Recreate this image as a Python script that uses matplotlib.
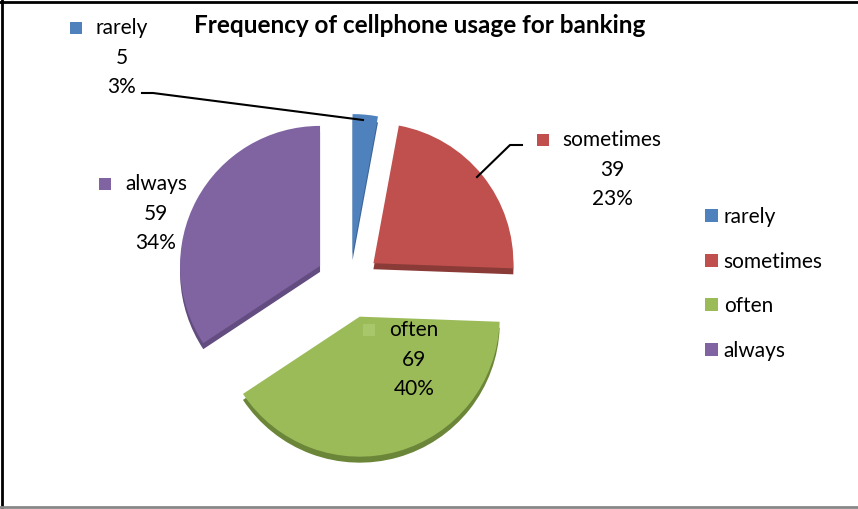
import matplotlib
matplotlib.use('Agg')
import matplotlib.pyplot as plt
from matplotlib.patches import Rectangle
from matplotlib.lines import Line2D

categories = ['rarely', 'sometimes', 'often', 'always']
counts = [5, 39, 69, 59]
percents = ['3%', '23%', '40%', '34%']
title = 'Frequency of cellphone usage for banking'

colors = ['#4F81BD', '#C0504D', '#9BBB59', '#8064A2']
side_colors = ['#3B6596', '#8A3A37', '#6B8638', '#624C80']

plt.rcParams['font.family'] = ['Lato', 'DejaVu Sans']

W, H = 858, 509
fig = plt.figure(figsize=(W / 100, H / 100), dpi=100)
ax = fig.add_axes([0, 0, 1, 1])


def Y(v):
    return H - v


cx, cy = 350, Y(282)
R = 140
explode = [28, 30, 36, 34]
depth = 6

# side (thickness) of the 3D pie
ax.pie(counts, explode=explode, colors=side_colors, startangle=90,
       counterclock=False, radius=R, center=(cx, cy - depth),
       wedgeprops=dict(linewidth=0))
wedges, _ = ax.pie(counts, explode=explode, colors=colors, startangle=90,
                   counterclock=False, radius=R, center=(cx, cy),
                   wedgeprops=dict(linewidth=0))

ax.set_xlim(0, W)
ax.set_ylim(0, H)
ax.set_aspect('equal')
ax.axis('off')

# title
ax.text(420, Y(25), title, ha='center', va='center', fontsize=17.5,
        fontweight='bold', color='black')

# data labels: (name centre x, name y) in image pixels
label_pos = [(122, 28), (612, 140), (414, 330), (156, 184)]
line_gap = 29.5
fs = 15
name_texts = []
for i, (lx, ly) in enumerate(label_pos):
    t = ax.text(lx, Y(ly), categories[i], ha='center', va='center', fontsize=fs)
    name_texts.append(t)
    ax.text(lx, Y(ly + line_gap), str(counts[i]), ha='center', va='center', fontsize=fs)
    ax.text(lx, Y(ly + 2 * line_gap), percents[i], ha='center', va='center', fontsize=fs)

fig.canvas.draw()
renderer = fig.canvas.get_renderer()
sq = 12
for i, t in enumerate(name_texts):
    bb = t.get_window_extent(renderer)
    x0 = bb.x0 - 14 - sq
    yc = Y(label_pos[i][1])
    fc = colors[i]
    if categories[i] == 'often':
        fc = '#A8C66A'
    ax.add_patch(Rectangle((x0, yc - sq / 2), sq, sq, facecolor=fc,
                           edgecolor='none', zorder=5))

# leader lines
ax.plot([142, 153, 363], [Y(93), Y(93), Y(120)], color='black', lw=1.5, zorder=6)
ax.plot([522, 510, 477], [Y(145), Y(145), Y(177)], color='black', lw=1.5, zorder=6)

# legend
handles = [Rectangle((0, 0), 1, 1, facecolor=c, edgecolor='none') for c in colors]
ax.legend(handles, categories, loc='upper left',
          bbox_to_anchor=(705 / W, 1 - 207 / H), frameon=False,
          fontsize=fs, handlelength=0.6, handleheight=0.6,
          handletextpad=0.3, labelspacing=1.18, borderpad=0, borderaxespad=0)

# chart border
fig.add_artist(Line2D([2 / W, 2 / W], [0, 1], color='black', lw=2))
fig.add_artist(Line2D([0, 1], [1 - 2 / H, 1 - 2 / H], color='black', lw=2))
fig.add_artist(Line2D([0, 1], [1 - 507 / H, 1 - 507 / H], color='#888888', lw=2))

fig.savefig('out.png', dpi=100)
